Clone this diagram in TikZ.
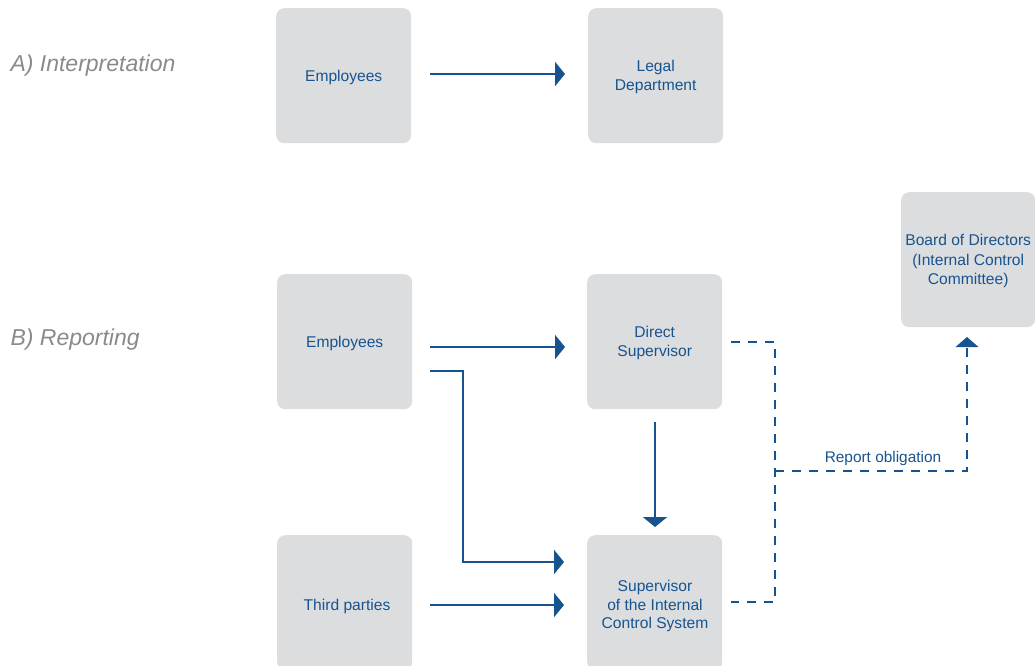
\documentclass[tikz,border=0pt]{standalone}
\usepackage{fontspec}
\setmainfont{Liberation Sans}
\usetikzlibrary{arrows.meta}
\definecolor{boxgray}{HTML}{DCDDDF}
\definecolor{flowblue}{HTML}{17548F}
\definecolor{labelgray}{HTML}{8A8A8A}
\tikzset{
  box/.style={fill=boxgray, rounded corners=8pt, minimum width=135pt, minimum height=135pt,
    inner sep=0pt, anchor=north west, text=flowblue, align=center, text depth=0pt,
    font=\fontsize{15.6}{18.8}\selectfont},
  boxtext/.style={text=flowblue, align=center, font=\fontsize{15.6}{18.8}\selectfont},
  flow/.style={draw=flowblue, line width=2.9pt, -{Triangle[length=10pt,width=24pt]}},
  report/.style={draw=flowblue, line width=2.6pt, dash pattern=on 9pt off 8pt},
  section/.style={anchor=west, text=labelgray, font=\fontsize{23}{27}\itshape\selectfont},
}
\begin{document}
\begin{tikzpicture}[x=1pt, y=-1pt]
\useasboundingbox (0,0) rectangle (1035,665);

% section headings
\node[section] (ha) at (7,66) {A) Interpretation};
\node[section] (hb) at (7,340) {B) Reporting};

% A) interpretation
\node[box] (empA) at (276,8) {Employees};
\node[box] (legal) at (588,8) {Legal\\Department};
\coordinate (aS) at (430,74);
\coordinate (aE) at (565,74);
\draw[flow] (aS) -- (aE);

% B) reporting
\node[box] (empB) at (277,274) {Employees};
\node[box] (dsup) at (587,274) {Direct\\Supervisor};
\node[box, minimum width=134pt, font=\fontsize{15.6}{19.5}\selectfont] (board) at (901,192) {Board of Directors\\(Internal Control\\Committee)};

% lower boxes run off the bottom edge
\begin{scope}
\clip (0,0) rectangle (1035,665);
\node[box] (third) at (277,535) {};
\node[box] (ics) at (587,535) {};
\end{scope}
\node[boxtext] (thirdT) at (347,606) {Third parties};
\node[boxtext] (icsT) at (655,606) {Supervisor\\of the Internal\\Control System};

% solid flows
\coordinate (e1) at (430,347);
\coordinate (d1) at (565,347);
\draw[flow] (e1) -- (d1);

\coordinate (e2) at (430,371);
\coordinate (i1) at (564,562);
\draw[flow] (e2) -| (463,562) -- (i1);

\coordinate (t1) at (430,605);
\coordinate (i2) at (564,605);
\draw[flow] (t1) -- (i2);

\coordinate (d2) at (655,422);
\coordinate (i3) at (655,527);
\draw[flow] (d2) -- (i3);

% dashed reporting line
\coordinate (r1) at (731,342);
\coordinate (r2) at (731,602);
\coordinate (rj) at (775,471);
\coordinate (rb) at (967,337);
\draw[report] (r1) -| (775,602) -- (r2);
\draw[report] (rj) -- (967,471) -- (967,346);
\fill[flowblue] (rb) -- (955.5,347) -- (978.5,347) -- cycle;
\node[text=flowblue, font=\fontsize{15.4}{18}\selectfont] (rlabel) at (883,459) {Report obligation};
\end{tikzpicture}
\end{document}
